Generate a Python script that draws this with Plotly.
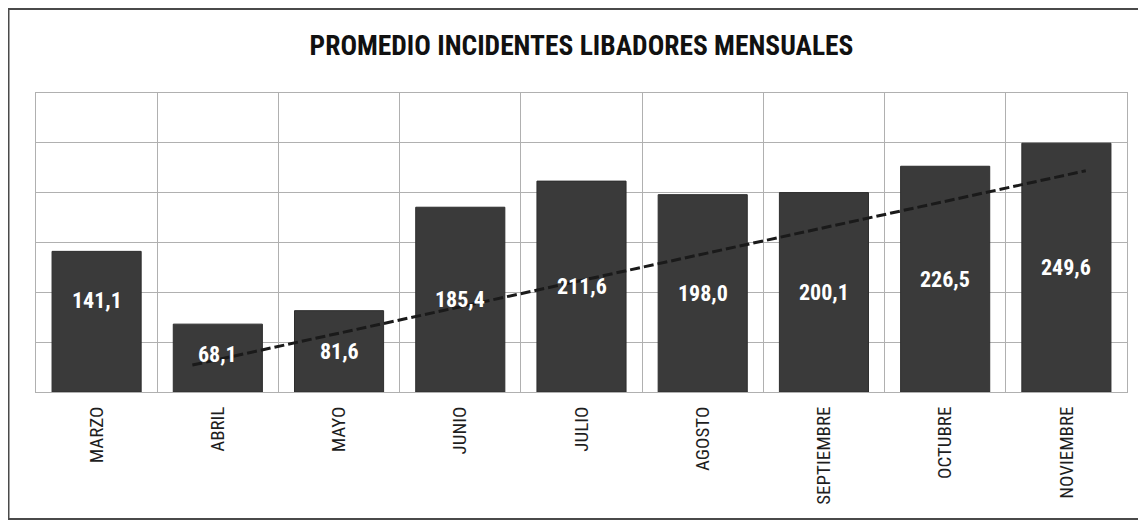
import plotly.graph_objects as go

months = ["MARZO", "ABRIL", "MAYO", "JUNIO", "JULIO", "AGOSTO",
          "SEPTIEMBRE", "OCTUBRE", "NOVIEMBRE"]
values = [141.1, 68.1, 81.6, 185.4, 211.6, 198.0, 200.1, 226.5, 249.6]
trend_x = [0.79, 8.16]
trend_y = [27, 222]
title = "PROMEDIO INCIDENTES LIBADORES MENSUALES"

FONT = "Roboto Condensed, Liberation Sans Narrow, Arial Narrow, DejaVu Sans Condensed, Roboto, sans-serif"

# label nudges (pixels) applied to the value labels placed at the bar middles
label_nudge = {"MARZO": 21, "ABRIL": 4}

fig = go.Figure()
fig.add_trace(go.Bar(
    x=months, y=values,
    marker=dict(color="#3a3a3a", line=dict(color="#2e2e2e", width=1)),
    showlegend=False, hoverinfo="x+y",
))
fig.add_trace(go.Scatter(
    x=trend_x, y=trend_y, xaxis="x2", yaxis="y",
    mode="lines", line=dict(color="#1a1a1a", width=3, dash="10px,4px"),
    showlegend=False, hoverinfo="skip",
))

annotations = []
for m, v in zip(months, values):
    annotations.append(dict(
        x=m, y=v / 2, xref="x", yref="y",
        text=f"<b>{v:.1f}</b>".replace(".", ","),
        showarrow=False, yshift=label_nudge.get(m, 0),
        font=dict(color="white", size=22, family=FONT),
    ))

fig.update_layout(
    width=1138, height=527,
    margin=dict(l=28, r=19, t=85, b=143),
    paper_bgcolor="white", plot_bgcolor="white",
    separators=",.",
    bargap=0.265,
    title=dict(text="<b>" + title + "</b>", x=0.5, xanchor="center",
               xref="paper", y=1 - 37 / 527, yanchor="middle",
               font=dict(family=FONT, size=27.5, color="#111111")),
    xaxis=dict(
        type="category", tickangle=-90, tickson="boundaries",
        showgrid=True, gridcolor="#b0b0b0", gridwidth=1,
        showline=True, linecolor="#b0b0b0", mirror=True,
        ticks="", ticklabelstandoff=6,
        tickfont=dict(family=FONT, size=19, color="#1e1e1e"),
        fixedrange=True,
    ),
    xaxis2=dict(overlaying="x", range=[-0.5, 8.5], visible=False),
    yaxis=dict(
        range=[0, 300], dtick=50, showgrid=True, gridcolor="#b0b0b0",
        gridwidth=1, showticklabels=False, zeroline=False,
        showline=True, linecolor="#b0b0b0", mirror=True, ticks="",
    ),
    annotations=annotations,
    shapes=[dict(type="rect", xref="paper", yref="paper",
                 x0=-0.0252, x1=1.011, y0=-0.425, y1=1.281,
                 line=dict(color="#4a4a4a", width=2), layer="below")],
)

fig.write_html("out.html")
